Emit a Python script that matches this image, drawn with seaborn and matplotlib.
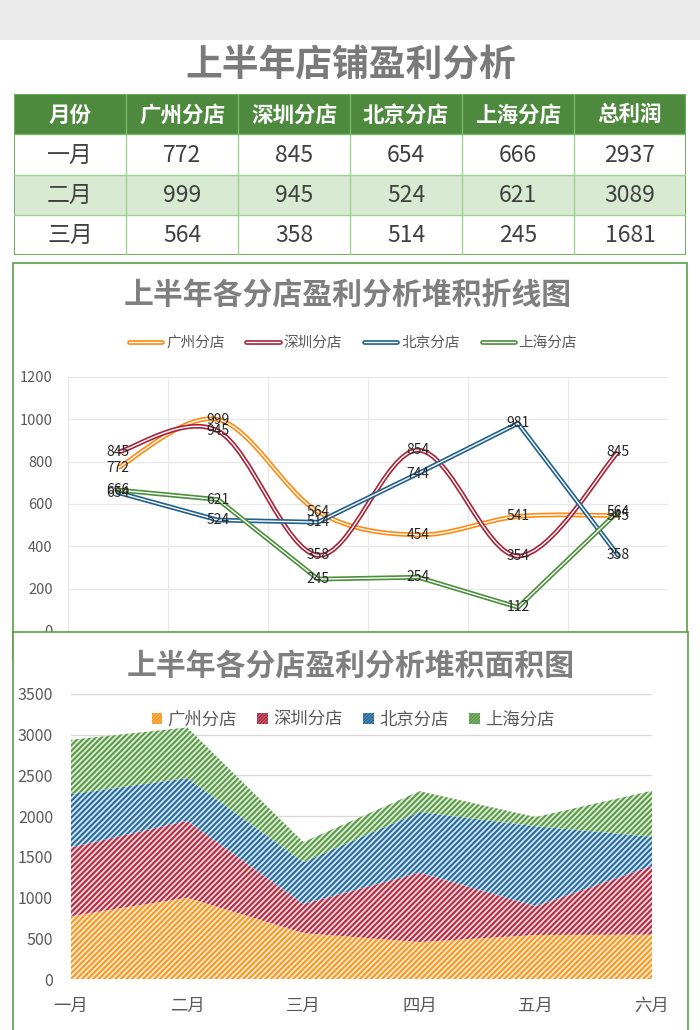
import numpy as np
import pandas as pd
import matplotlib
matplotlib.use("Agg")
import matplotlib.pyplot as plt
import seaborn as sns
from matplotlib.patches import Rectangle, Patch, PathPatch
from matplotlib.lines import Line2D
from matplotlib.path import Path
import matplotlib.patheffects as pe

# ---------------- data ----------------
months = ["一月", "二月", "三月", "四月", "五月", "六月"]
stores = ["广州分店", "深圳分店", "北京分店", "上海分店"]
guangzhou = [772, 999, 564, 454, 541, 545]
shenzhen = [845, 945, 358, 854, 354, 845]
beijing = [654, 524, 514, 744, 981, 358]
shanghai = [666, 621, 245, 254, 112, 564]
table_months = ["一月", "二月", "三月"]
table_header = ["月份", "广州分店", "深圳分店", "北京分店", "上海分店", "总利润"]
line_yticks = [0, 200, 400, 600, 800, 1000, 1200]
area_yticks = [0, 500, 1000, 1500, 2000, 2500, 3000, 3500]

series = [guangzhou, shenzhen, beijing, shanghai]
line_colors = ["#FF8A12", "#A82238", "#20608E", "#4B8E3C"]
hatch_edge = ["#F79A25", "#B02E44", "#276A9C", "#5A9A48"]
hatch_face = ["#FFE9CF", "#F6D6DB", "#D3E6F3", "#DFEDD8"]
smooth = [True, True, False, False]

sns.set_theme(style="white")
plt.rcParams["font.family"] = ["Noto Sans CJK SC", "DejaVu Sans"]
plt.rcParams["hatch.linewidth"] = 1.5
plt.rcParams["axes.unicode_minus"] = False

W, H = 700, 1030
fig = plt.figure(figsize=(7, 10.3), dpi=100)
fig.patch.set_facecolor("white")


def fx(x):
    return x / W


def fy(y):
    return 1 - y / H


# top grey band
fig.patches.append(Rectangle((0, fy(40)), 1, 40 / H, transform=fig.transFigure,
                             facecolor="#EBEBEB", edgecolor="none", zorder=0))
fig.text(fx(351), fy(66), "上半年店铺盈利分析", ha="center", va="center",
         fontsize=26.5, fontweight="bold", color="#7A7A7A")

# ---------------- table ----------------
tax = fig.add_axes([fx(14), fy(255), 672 / W, 161 / H])
tax.set_xlim(0, 6)
tax.set_ylim(4, 0)
tax.axis("off")
row_colors = ["#4E8A3D", "#FFFFFF", "#D9EAD3", "#FFFFFF"]
for r in range(4):
    tax.add_patch(Rectangle((0, r), 6, 1, facecolor=row_colors[r], edgecolor="none"))
for c in range(1, 6):
    tax.plot([c, c], [0, 1], color="#7DB96A", lw=1.0)
    tax.plot([c, c], [1, 4], color="#9FD28E", lw=1.0)
for r in range(2, 4):
    tax.plot([0, 6], [r, r], color="#9FD28E", lw=1.0)
tax.plot([0, 6], [1, 1], color="#7DB96A", lw=1.0)
tax.add_patch(Rectangle((0, 0), 6, 4, facecolor="none", edgecolor="#6FAE5C", lw=1.4))
for c, h in enumerate(table_header):
    tax.text(c + 0.5, 0.52, h, ha="center", va="center", fontsize=15.5,
             fontweight="bold", color="white")
for r, m in enumerate(table_months):
    vals = [s[r] for s in series]
    cells = [m] + [str(v) for v in vals] + [str(sum(vals))]
    for c, t in enumerate(cells):
        tax.text(c + 0.5, r + 1.52, t, ha="center", va="center", fontsize=16.5,
                 color="#404040")

# ---------------- line chart ----------------
fig.patches.append(Rectangle((fx(13), fy(660)), 674 / W, 397 / H, transform=fig.transFigure,
                             facecolor="white", edgecolor="#5A9E46", lw=1.2, zorder=1))
fig.text(fx(348), fy(296), "上半年各分店盈利分析堆积折线图", ha="center", va="center",
         fontsize=21.5, fontweight="bold", color="#7F7F7F", zorder=3)

lax = fig.add_axes([fx(68), fy(631), 600 / W, 254 / H], zorder=2)
lax.set_facecolor("none")
lax.set_xlim(-0.5, 5.5)
lax.set_ylim(0, 1200)
lax.set_yticks(line_yticks)
lax.set_yticklabels([str(v) for v in line_yticks], fontsize=10.5, color="#595959")
lax.set_xticks(np.arange(-0.5, 6, 1))
lax.set_xticklabels([])
lax.tick_params(length=0, pad=10)
lax.tick_params(axis="y", pad=11)
lax.grid(True, color="#E8E8E8", lw=0.9)
for sp in lax.spines.values():
    sp.set_visible(False)

xs = np.arange(len(months))


def bezier_path(x, y):
    pts = np.column_stack([x, y]).astype(float)
    n = len(pts)
    verts = [pts[0]]
    codes = [Path.MOVETO]
    for i in range(n - 1):
        p0 = pts[max(i - 1, 0)]
        p1 = pts[i]
        p2 = pts[i + 1]
        p3 = pts[min(i + 2, n - 1)]
        c1 = p1 + (p2 - p0) / 6.0
        c2 = p2 - (p3 - p1) / 6.0
        verts += [c1, c2, p2]
        codes += [Path.CURVE4] * 3
    return Path(verts, codes)


handles = []
for s, name, col, sm in zip(series, stores, line_colors, smooth):
    effects = [pe.Stroke(linewidth=3.4, foreground=col), pe.Normal()]
    if sm:
        patch = PathPatch(bezier_path(xs, s), facecolor="none", edgecolor="white",
                          lw=1.0, path_effects=effects, zorder=3)
        lax.add_patch(patch)
    else:
        df = pd.DataFrame({"x": xs, "y": s})
        sns.lineplot(data=df, x="x", y="y", ax=lax, color="white", lw=1.0,
                     path_effects=effects, zorder=3)
    handles.append(Line2D([0], [0], color="white", lw=1.0, path_effects=effects, label=name))
lax.set_xlabel("")
lax.set_ylabel("")
for s in series:
    for i, v in enumerate(s):
        lax.text(i, v, str(v), ha="center", va="center", fontsize=10,
                 color="#262626", zorder=5)

fig.legend(handles=handles, loc="center", bbox_to_anchor=(fx(353), fy(343)), ncol=4,
           frameon=False, fontsize=10.5, handlelength=2.3, handletextpad=0.25,
           columnspacing=1.5, labelcolor="#595959")

# ---------------- area chart ----------------
pax = fig.add_axes([fx(13), fy(1034), 675 / W, 402 / H], zorder=5)
pax.set_facecolor("white")
pax.set_xticks([])
pax.set_yticks([])
for sp in pax.spines.values():
    sp.set_color("#5A9E46")
    sp.set_linewidth(1.2)
pax.text(0.5, (1034 - 666) / 402, "上半年各分店盈利分析堆积面积图", transform=pax.transAxes,
         ha="center", va="center", fontsize=21.5, fontweight="bold", color="#7F7F7F")

aax = fig.add_axes([fx(71), fy(979), 581 / W, 285 / H], zorder=6)
aax.set_facecolor("none")
aax.set_xlim(0, 5)
aax.set_ylim(0, 3500)
aax.set_yticks(area_yticks)
aax.set_yticklabels([str(v) for v in area_yticks], fontsize=11.5, color="#595959")
aax.set_xticks(xs)
aax.set_xticklabels(months, fontsize=12.5, color="#595959")
aax.tick_params(length=0)
aax.tick_params(axis="y", pad=13)
aax.tick_params(axis="x", pad=13)
aax.yaxis.grid(True, color="#D9D9D9", lw=1.0)
aax.xaxis.grid(False)
aax.set_axisbelow(True)
for sp in aax.spines.values():
    sp.set_visible(False)

lower = np.zeros(len(months))
patches = []
for s, name, ec, fc in zip(series, stores, hatch_edge, hatch_face):
    upper = lower + np.array(s)
    aax.fill_between(xs, lower, upper, facecolor=fc, edgecolor=ec, hatch="//////",
                     linewidth=0, zorder=2)
    lower = upper
    patches.append(Patch(facecolor=fc, edgecolor=ec, hatch="//////////", linewidth=0, label=name))

aax.legend(handles=patches, loc="center", bbox_to_anchor=(fx(353), fy(720)),
           bbox_transform=fig.transFigure, ncol=4, frameon=False, fontsize=12.5,
           handlelength=0.6, handleheight=0.6, handletextpad=0.3, columnspacing=1.2,
           labelcolor="#595959")

fig.savefig("out.png", dpi=100)
